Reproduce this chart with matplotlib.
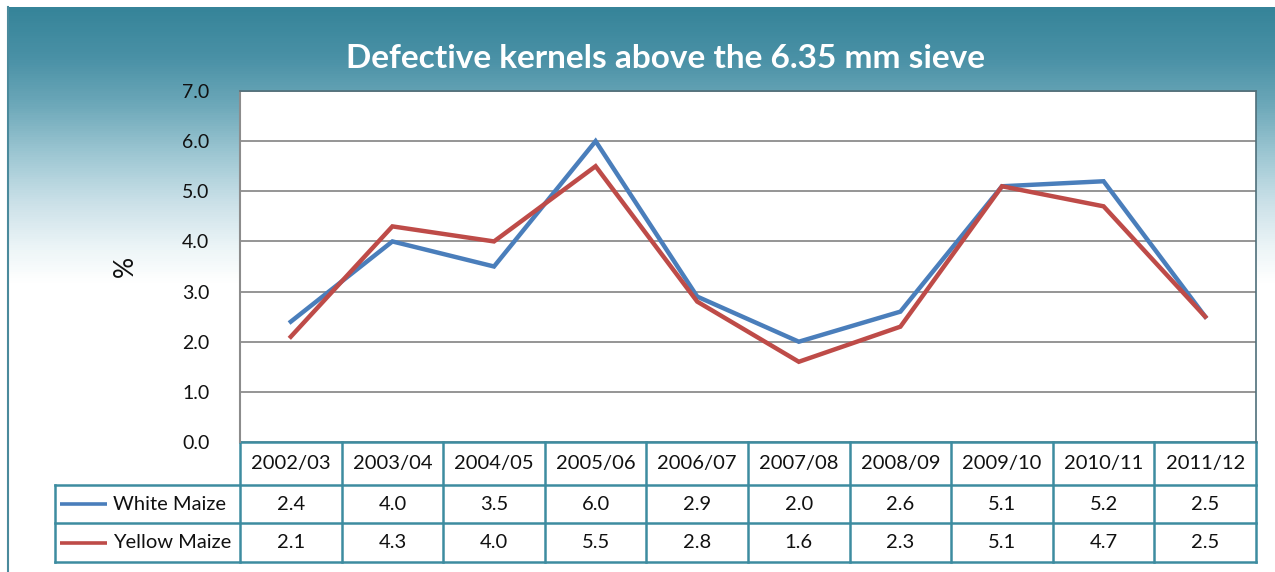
import matplotlib
matplotlib.use("Agg")
import matplotlib.pyplot as plt
import numpy as np
from matplotlib.colors import LinearSegmentedColormap
from matplotlib.lines import Line2D

seasons = ["2002/03", "2003/04", "2004/05", "2005/06", "2006/07",
           "2007/08", "2008/09", "2009/10", "2010/11", "2011/12"]
white_maize = [2.4, 4.0, 3.5, 6.0, 2.9, 2.0, 2.6, 5.1, 5.2, 2.5]
yellow_maize = [2.1, 4.3, 4.0, 5.5, 2.8, 1.6, 2.3, 5.1, 4.7, 2.5]
series_names = ["White Maize", "Yellow Maize"]
series_colors = ["#4a7ebb", "#be4b48"]
yticks = [0.0, 1.0, 2.0, 3.0, 4.0, 5.0, 6.0, 7.0]
title = "Defective kernels above the 6.35 mm sieve"

W, H = 1275, 572
fig = plt.figure(figsize=(W / 100, H / 100), dpi=100)
fig.patch.set_facecolor("white")
FONT = "Lato"
TEAL = "#3d8ca0"

# background gradient box
top_px = 7
bg = fig.add_axes([7 / W, 0, 1 - 7 / W, 1 - top_px / H])
bg.set_axis_off()
span = H - top_px
stops = [(0, "#368499"), (50, "#4a91a6"), (95, "#6ba7b8"), (145, "#9cc6d2"),
         (195, "#cbe1e8"), (240, "#ecf5f7"), (275, "#ffffff"), (span, "#ffffff")]
cmap = LinearSegmentedColormap.from_list("g", [(p / span, c) for p, c in stops])
grad = np.linspace(0, 1, span)
bg.imshow(grad[:, None], aspect="auto", cmap=cmap, extent=[0, 1, 0, 1],
          origin="upper", interpolation="bilinear")
bg.set_xlim(0, 1)
bg.set_ylim(0, 1)
fig.add_artist(Line2D([7.5 / W, 7.5 / W], [0, 1 - top_px / H], color="#4a8a9c",
                      lw=1.5, transform=fig.transFigure))

# main plot
left, right, top, bottom = 240, 1256, 91, 442
ax = fig.add_axes([left / W, 1 - bottom / H, (right - left) / W, (bottom - top) / H])
ax.set_facecolor("white")
x = np.arange(len(seasons))
ax.plot(x, white_maize, color=series_colors[0], lw=3.2, solid_joinstyle="miter", zorder=3)
ax.plot(x, yellow_maize, color=series_colors[1], lw=3.2, solid_joinstyle="miter", zorder=3)
ax.set_xlim(-0.5, len(seasons) - 0.5)
ax.set_ylim(0, 7)
ax.set_yticks(yticks)
ax.set_yticklabels([f"{v:.1f}" for v in yticks], fontsize=14, family=FONT, color="#111111")
ax.tick_params(axis="y", length=0, pad=22)
ax.set_xticks([])
ax.grid(axis="y", color="#8c8c8c", lw=1.3)
ax.set_axisbelow(True)
ax.spines["left"].set_color("#8c8c8c")
ax.spines["left"].set_linewidth(1.5)
for s in ["top", "right"]:
    ax.spines[s].set_color("#4f6f7a")
    ax.spines[s].set_linewidth(1.2)
ax.spines["bottom"].set_visible(False)
ax.set_ylabel("%", fontsize=19, family=FONT, labelpad=32, color="#111111")

# title
fig.text(666 / W, 1 - 58 / H, title, ha="center", va="center", color="white",
         fontsize=24, fontweight="bold", family=FONT)

# data table
ph = bottom - top
row_edges = [0, -(485 - 442) / ph, -(523 - 442) / ph, -(562 - 442) / ph]
trans = ax.get_xaxis_transform()
lc = TEAL
lw = 1.8
n = len(seasons)
px = (right - left) / n
leg_x0 = (55 - left) / px - 0.5
ax.plot([-0.5, n - 0.5], [row_edges[0]] * 2, transform=trans, color=lc, lw=lw, clip_on=False)
for ry in row_edges[1:]:
    ax.plot([leg_x0, n - 0.5], [ry] * 2, transform=trans, color=lc, lw=lw, clip_on=False)
for i in range(n + 1):
    ax.plot([i - 0.5, i - 0.5], [row_edges[0], row_edges[3]], transform=trans,
            color=lc, lw=lw, clip_on=False)
ax.plot([leg_x0, leg_x0], [row_edges[1], row_edges[3]], transform=trans,
        color=lc, lw=lw, clip_on=False)

for i, s in enumerate(seasons):
    ax.text(i, (row_edges[0] + row_edges[1]) / 2, s, transform=trans, ha="center",
            va="center", fontsize=14.5, family=FONT, color="#111111")
for r, (vals, name, col) in enumerate(zip([white_maize, yellow_maize], series_names, series_colors)):
    yc = (row_edges[r + 1] + row_edges[r + 2]) / 2
    for i, v in enumerate(vals):
        ax.text(i, yc, f"{v:.1f}", transform=trans, ha="center", va="center",
                fontsize=14.5, family=FONT, color="#111111")
    ax.plot([leg_x0 + 5 / px, leg_x0 + 52 / px], [yc, yc], transform=trans, color=col,
            lw=2.6, clip_on=False, solid_capstyle="butt")
    ax.text(leg_x0 + 58 / px, yc, name, transform=trans, ha="left", va="center",
            fontsize=14.5, family=FONT, color="#111111")

fig.savefig("out.png", dpi=100)
